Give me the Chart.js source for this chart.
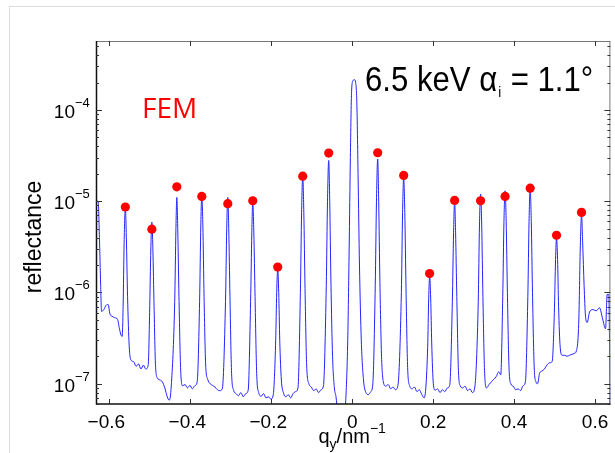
<!DOCTYPE html>
<html>
<head>
<meta charset="utf-8">
<script src="https://cdn.jsdelivr.net/npm/chart.js@4.4.0/dist/chart.umd.min.js"></script>
<style>
  html, body { margin: 0; padding: 0; background: #fff; }
  #wrap { position: relative; width: 615px; height: 453px; }
</style>
</head>
<body>
<div id="wrap"><canvas id="chart" width="615" height="453"></canvas></div>
<script>
// blue curve (q_y in nm^-1, reflectance)
const lineQ = [
    -0.6335, -0.6277, -0.6245, -0.6215, -0.6193, -0.6136, -0.6085, -0.6030, -0.5985, -0.5935, -0.5870, -0.5800, -0.5750, -0.5720, -0.5684,
    -0.5660, -0.5635, -0.5605, -0.5580, -0.5550, -0.5510, -0.5460, -0.5400, -0.5340, -0.5280, -0.5220, -0.5160, -0.5100, -0.5040,
    -0.5005, -0.4975, -0.4950, -0.4925, -0.4895, -0.4860, -0.4810, -0.4750, -0.4690, -0.4630, -0.4570, -0.4520, -0.4470,
    -0.4385, -0.4355, -0.4333, -0.4310, -0.4280, -0.4240, -0.4190, -0.4130, -0.4070, -0.4010, -0.3950, -0.3890, -0.3830,
    -0.3770, -0.3740, -0.3716, -0.3690, -0.3660, -0.3620, -0.3570, -0.3510, -0.3450, -0.3390, -0.3330, -0.3270, -0.3210,
    -0.3130, -0.3100, -0.3074, -0.3050, -0.3020, -0.2980, -0.2930, -0.2870, -0.2810, -0.2750, -0.2690, -0.2630, -0.2570,
    -0.2510, -0.2480, -0.2457, -0.2430, -0.2400, -0.2360, -0.2310, -0.2250, -0.2190, -0.2130, -0.2070, -0.2010, -0.1950,
    -0.1890, -0.1865, -0.1840, -0.1815, -0.1790, -0.1750, -0.1700, -0.1640, -0.1580, -0.1520, -0.1460, -0.1400, -0.1340,
    -0.1280, -0.1250, -0.1222, -0.1195, -0.1165, -0.1125, -0.1070, -0.1010, -0.0950, -0.0890, -0.0830, -0.0770, -0.0710,
    -0.0640, -0.0610, -0.0580, -0.0555, -0.0525, -0.0485, -0.0440, -0.0400, -0.0360, -0.0280, -0.0200,
    -0.0160, -0.0110, -0.0075, -0.0045, -0.0015, 0.0020, 0.0055, 0.0085, 0.0115, 0.0145, 0.0180, 0.0225, 0.0280, 0.0340, 0.0400, 0.0460, 0.0510,
    0.0570, 0.0600, 0.0630, 0.0655, 0.0685, 0.0725, 0.0770, 0.0830, 0.0890, 0.0950, 0.1010, 0.1070, 0.1130,
    0.1215, 0.1245, 0.1272, 0.1300, 0.1330, 0.1370, 0.1420, 0.1480, 0.1540, 0.1600, 0.1660, 0.1720, 0.1780,
    0.1865, 0.1890, 0.1914, 0.1940, 0.1965, 0.2005, 0.2050, 0.2110, 0.2170, 0.2230, 0.2290, 0.2350, 0.2410,
    0.2475, 0.2505, 0.2531, 0.2555, 0.2585, 0.2625, 0.2670, 0.2730, 0.2790, 0.2850, 0.2910, 0.2970, 0.3030,
    0.3115, 0.3145, 0.3173, 0.3200, 0.3230, 0.3270, 0.3320, 0.3380, 0.3440, 0.3500, 0.3560, 0.3620, 0.3670,
    0.3720, 0.3750, 0.3778, 0.3805, 0.3835, 0.3875, 0.3920, 0.3980, 0.4040, 0.4100, 0.4160, 0.4220, 0.4280,
    0.4340, 0.4370, 0.4398, 0.4425, 0.4455, 0.4495, 0.4540, 0.4580, 0.4630, 0.4690, 0.4750, 0.4810, 0.4880, 0.4940,
    0.4995, 0.5025, 0.5049, 0.5075, 0.5100, 0.5140, 0.5190, 0.5250, 0.5310, 0.5370, 0.5430, 0.5490, 0.5540,
    0.5600, 0.5635, 0.5667, 0.5695, 0.5730, 0.5765, 0.5807, 0.5864, 0.5946, 0.6030, 0.6110, 0.6190, 0.6260, 0.6300, 0.6340, 0.6375
]
const lineR = [
    1.0e-5, 1.0e-5, 4.0e-6, 1.2e-6, 6.2e-7, 6.5e-7, 7.2e-7, 7.4e-7, 5.8e-7, 5.5e-7, 5.3e-7, 5.1e-7, 4.0e-7, 3.5e-7, 3.3e-7,
    7.0e-7, 3.5e-6, 8.6e-6, 4.0e-6, 9.0e-7, 2.6e-7, 1.8e-7, 1.75e-7, 1.55e-7, 1.65e-7, 1.45e-7, 1.6e-7, 1.45e-7, 1.6e-7,
    6.0e-7, 3.0e-6, 5.9e-6, 3.0e-6, 7.0e-7, 1.6e-7, 1.15e-7, 1.1e-7, 1.05e-7, 9.0e-8, 7.2e-8, 6.6e-8, 9.5e-8,
    8.0e-7, 5.0e-6, 1.1e-5, 5.0e-6, 9.0e-7, 1.5e-7, 9.5e-8, 9.8e-8, 9.0e-8, 9.6e-8, 8.8e-8, 9.5e-8, 1.05e-7,
    8.0e-7, 5.5e-6, 1.15e-5, 5.5e-6, 9.0e-7, 1.6e-7, 1.12e-7, 1.0e-7, 9.6e-8, 9.2e-8, 8.6e-8, 8.4e-8, 8.8e-8,
    8.0e-7, 5.0e-6, 1.1e-5, 5.0e-6, 9.0e-7, 1.3e-7, 8.5e-8, 7.8e-8, 7.4e-8, 8.0e-8, 7.2e-8, 7.8e-8, 8.5e-8,
    8.0e-7, 4.5e-6, 1.0e-5, 4.5e-6, 9.0e-7, 1.3e-7, 8.0e-8, 7.3e-8, 7.8e-8, 7.0e-8, 7.2e-8, 6.8e-8, 7.6e-8,
    3.0e-7, 1.0e-6, 1.8e-6, 1.0e-6, 3.0e-7, 1.1e-7, 8.0e-8, 7.2e-8, 7.6e-8, 7.0e-8, 7.8e-8, 8.2e-8, 9.0e-8,
    1.0e-6, 7.5e-6, 1.9e-5, 7.5e-6, 1.1e-6, 1.6e-7, 1.0e-7, 9.2e-8, 8.4e-8, 8.8e-8, 8.0e-8, 8.6e-8, 9.5e-8,
    1.2e-6, 1.0e-5, 2.8e-5, 1.0e-5, 1.3e-6, 2.0e-7, 9.0e-8, 7.2e-8, 5.0e-8, 4.0e-8, 4.5e-8,
    6.5e-8, 3.0e-7, 3.0e-6, 3.0e-5, 1.6e-4, 2.1e-4, 2.15e-4, 2.0e-4, 1.2e-4, 2.0e-5, 2.0e-6, 3.0e-7, 1.1e-7, 8.0e-8, 7.6e-8, 8.2e-8, 1.0e-7,
    1.2e-6, 1.0e-5, 2.9e-5, 1.0e-5, 1.3e-6, 2.0e-7, 1.05e-7, 9.4e-8, 9.8e-8, 8.8e-8, 9.2e-8, 8.6e-8, 9.6e-8,
    1.0e-6, 7.5e-6, 1.8e-5, 7.5e-6, 1.1e-6, 1.5e-7, 9.5e-8, 8.8e-8, 9.2e-8, 8.2e-8, 8.6e-8, 7.6e-8, 7.0e-8,
    2.5e-7, 8.5e-7, 1.5e-6, 8.5e-7, 2.8e-7, 1.0e-7, 8.5e-8, 8.8e-8, 8.0e-8, 8.6e-8, 8.2e-8, 9.0e-8, 9.6e-8,
    8.0e-7, 4.5e-6, 1.0e-5, 4.5e-6, 9.0e-7, 1.4e-7, 9.5e-8, 9.0e-8, 9.4e-8, 8.4e-8, 8.8e-8, 8.0e-8, 9.2e-8,
    8.0e-7, 5.5e-6, 1.2e-5, 5.5e-6, 9.0e-7, 1.4e-7, 9.0e-8, 9.8e-8, 1.05e-7, 1.12e-7, 1.2e-7, 1.35e-7, 1.25e-7,
    9.0e-7, 6.0e-6, 1.3e-5, 6.0e-6, 1.0e-6, 1.5e-7, 1.0e-7, 9.4e-8, 8.6e-8, 8.8e-8, 8.4e-8, 9.5e-8, 1.05e-7,
    9.0e-7, 6.0e-6, 1.35e-5, 6.0e-6, 1.0e-6, 1.6e-7, 1.05e-7, 1.0e-7, 1.3e-7, 1.38e-7, 1.45e-7, 1.6e-7, 1.7e-7, 1.75e-7,
    6.0e-7, 2.3e-6, 4.0e-6, 2.3e-6, 7.0e-7, 2.5e-7, 2.05e-7, 2.05e-7, 2.0e-7, 2.05e-7, 2.1e-7, 2.15e-7, 2.3e-7,
    5.0e-7, 3.0e-6, 7.0e-6, 3.5e-6, 1.2e-6, 5.5e-7, 4.7e-7, 6.1e-7, 6.5e-7, 6.3e-7, 6.8e-7, 5.1e-7, 4.0e-7, 9.5e-7, 9.5e-7, 5.0e-8
]

// red FEM points
const dotQ = [-0.5605, -0.4950, -0.4333, -0.3716, -0.3074, -0.2457, -0.1840, -0.1222, -0.0580,
              0.0630, 0.1272, 0.1914, 0.2531, 0.3173, 0.3778, 0.4398, 0.5049, 0.5667]
const dotR = [8.65e-6, 4.94e-6, 1.44e-5, 1.13e-5, 9.4e-6, 1.01e-5, 1.9e-6, 1.88e-5, 3.37e-5,
              3.4e-5, 1.92e-5, 1.61e-6, 1.02e-5, 1.01e-5, 1.13e-5, 1.39e-5, 4.24e-6, 7.55e-6]

const xTicks = [-0.6, -0.4, -0.2, 0, 0.2, 0.4, 0.6]
const xTickLabels = ["\u22120.6", "\u22120.4", "\u22120.2", "0", "0.2", "0.4", "0.6"]
const yTicks = [1e-7, 1e-6, 1e-5, 1e-4]
const yTickExp = ["\u22127", "\u22126", "\u22125", "\u22124"]

const FONT = '"Liberation Sans", Arial, Helvetica, sans-serif'

const matlabAxes = {
    id: 'matlabAxes',
    beforeDraw(chart) {
        let ctx = chart.ctx
        ctx.save()
        ctx.fillStyle = '#fff'
        ctx.fillRect(0, 0, chart.width, chart.height)
        ctx.strokeStyle = '#dcdcdc'
        ctx.lineWidth = 1
        ctx.beginPath()
        ctx.moveTo(9.5, chart.height)
        ctx.lineTo(9.5, 6.5)
        ctx.lineTo(chart.width, 6.5)
        ctx.stroke()
        ctx.restore()
    },
    afterDatasetsDraw(chart) {
        let ctx = chart.ctx
        let a = chart.chartArea
        let xs = chart.scales.x
        let ys = chart.scales.y
        ctx.save()

        // box
        ctx.strokeStyle = '#777'
        ctx.lineWidth = 1
        ctx.beginPath()
        ctx.moveTo(a.left, a.top + 0.5)
        ctx.lineTo(a.right, a.top + 0.5)
        ctx.moveTo(a.right - 0.5, a.top)
        ctx.lineTo(a.right - 0.5, a.bottom)
        ctx.stroke()
        ctx.strokeStyle = '#111'
        ctx.lineWidth = 1.5
        ctx.beginPath()
        ctx.moveTo(a.left + 0.5, a.top)
        ctx.lineTo(a.left + 0.5, a.bottom)
        ctx.lineTo(a.right, a.bottom)
        ctx.stroke()

        // inward ticks
        ctx.strokeStyle = '#333'
        ctx.lineWidth = 1
        ctx.beginPath()
        xTicks.forEach(v => {
            let px = Math.round(xs.getPixelForValue(v)) + 0.5
            ctx.moveTo(px, a.bottom)
            ctx.lineTo(px, a.bottom - 5)
            ctx.moveTo(px, a.top)
            ctx.lineTo(px, a.top + 5)
        })
        for (let e = -8; e <= -4; e++) {
            for (let m = 1; m <= 9; m++) {
                let v = m * Math.pow(10, e)
                if (v < ys.min || v > ys.max) continue
                let py = Math.round(ys.getPixelForValue(v)) + 0.5
                let len = m === 1 ? 6 : 3
                ctx.moveTo(a.left, py)
                ctx.lineTo(a.left + len, py)
                ctx.moveTo(a.right, py)
                ctx.lineTo(a.right - len, py)
            }
        }
        ctx.stroke()

        // x tick labels
        ctx.fillStyle = '#000'
        ctx.font = '19px ' + FONT
        ctx.textAlign = 'center'
        ctx.textBaseline = 'alphabetic'
        xTicks.forEach((v, i) => {
            let px = xs.getPixelForValue(v)
            let off = xTickLabels[i].startsWith('\u2212') ? -3 : 0
            ctx.fillText(xTickLabels[i], px + off, 428)
        })

        // y tick labels 10^n
        yTicks.forEach((v, i) => {
            let py = ys.getPixelForValue(v)
            ctx.font = '19px ' + FONT
            ctx.textAlign = 'right'
            ctx.fillText('10', 75, py + 8)
            ctx.font = '13px ' + FONT
            ctx.textAlign = 'left'
            ctx.fillText(yTickExp[i], 75, py - 3)
        })

        // x axis title q_y/nm^-1
        ctx.textAlign = 'left'
        let parts = [['q', 20, 0], ['y', 14, 6], ['/nm', 20, 0], ['\u22121', 14, -10]]
        let total = 0
        parts.forEach(p => {
            ctx.font = p[1] + 'px ' + FONT
            total += ctx.measureText(p[0]).width
        })
        let x = xs.getPixelForValue(0) - total / 2
        parts.forEach(p => {
            ctx.font = p[1] + 'px ' + FONT
            ctx.fillText(p[0], x, 443 + p[2])
            x += ctx.measureText(p[0]).width
        })

        // y axis title
        ctx.save()
        ctx.translate(41, 237)
        ctx.rotate(-Math.PI / 2)
        ctx.font = '23px ' + FONT
        ctx.textAlign = 'center'
        ctx.fillText('reflectance', 0, 0)
        ctx.restore()

        // FEM label
        ctx.fillStyle = 'rgb(255,0,0)'
        ctx.font = '28px "Open Sans", sans-serif'
        ctx.textAlign = 'left'
        ctx.fillText('FEM', 142, 118)

        // energy / angle label
        ctx.fillStyle = '#000'
        ctx.save()
        ctx.translate(365, 91)
        ctx.scale(0.89, 1)
        ctx.font = '35px ' + FONT
        ctx.fillText('6.5 keV \u03b1', 0, 0)
        let w1 = ctx.measureText('6.5 keV \u03b1').width
        ctx.font = '15px ' + FONT
        ctx.fillText('i', w1 + 1, 6)
        let w2 = ctx.measureText('i').width
        ctx.font = '35px ' + FONT
        ctx.fillText(' = 1.1\u00b0', w1 + w2 + 2, 0)
        ctx.restore()

        ctx.restore()
    }
}

let chart = new Chart(document.getElementById('chart').getContext('2d'), {
    type: 'scatter',
    data: {
        datasets: [{
            label: 'FEM',
            data: dotQ.map((q, i) => ({x: q, y: dotR[i]})),
            backgroundColor: 'rgb(255,0,0)',
            borderWidth: 0,
            pointRadius: 4.6,
            showLine: false
        }, {
            label: 'measured',
            data: lineQ.map((q, i) => ({x: q, y: lineR[i]})),
            borderColor: 'rgb(35,35,255)',
            borderWidth: 1,
            pointRadius: 0,
            showLine: true,
            cubicInterpolationMode: 'monotone'
        }]
    },
    options: {
        responsive: false,
        animation: false,
        devicePixelRatio: 1,
        layout: { padding: { left: 96, right: 4, top: 41, bottom: 0 } },
        plugins: {
            legend: { display: false },
            tooltip: { enabled: false }
        },
        scales: {
            x: {
                type: 'linear',
                min: -0.633,
                max: 0.638,
                ticks: { display: false },
                grid: { display: false },
                border: { display: false },
                afterFit(s) { s.height = 49 }
            },
            y: {
                type: 'logarithmic',
                min: 6.1e-8,
                max: 5.7e-4,
                ticks: { display: false },
                grid: { display: false },
                border: { display: false },
                afterFit(s) { s.width = 0 }
            }
        }
    },
    plugins: [matlabAxes]
})
</script>
</body>
</html>
